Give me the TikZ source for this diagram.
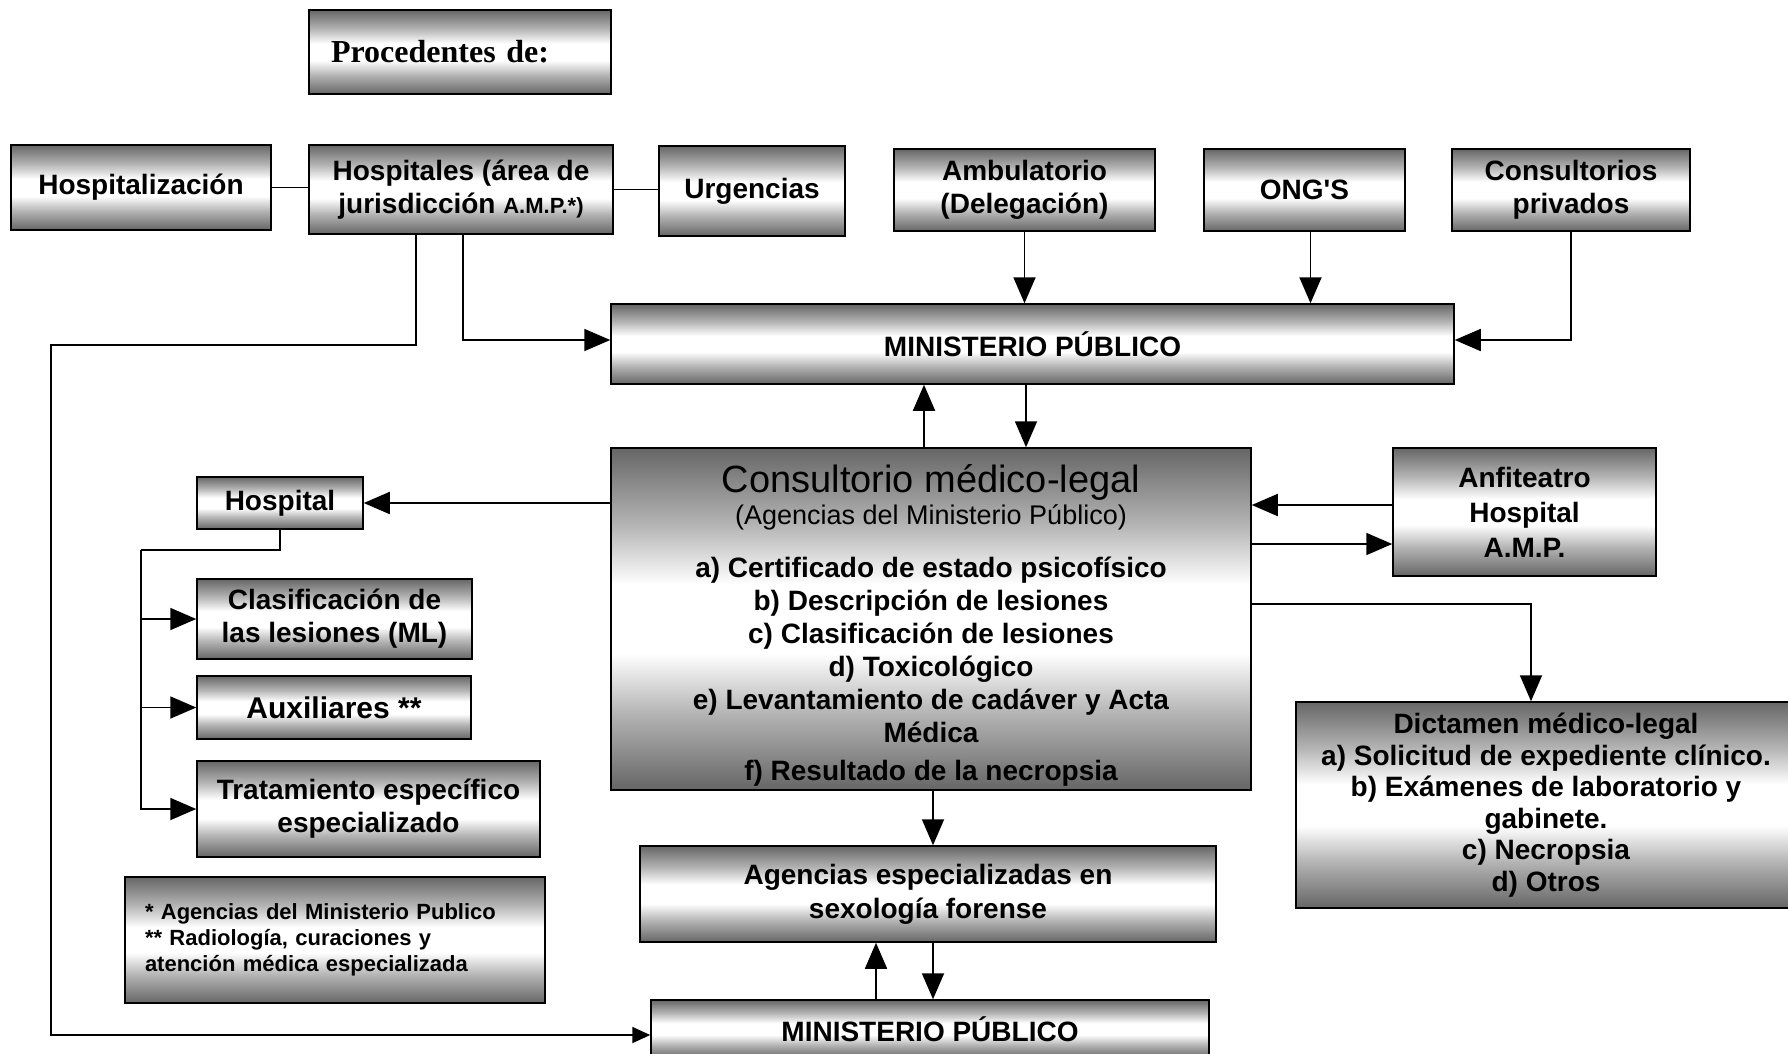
\documentclass[tikz,border=0pt]{standalone}
\usepackage{fontspec}
\setmainfont{Liberation Sans}
\newfontfamily\procfont{Liberation Serif}
\newfontfamily\straightfont{Liberation Sans}[Ligatures=TeXOff]
\usetikzlibrary{arrows.meta}

% grey band shading: dark at top and bottom, white across the middle
\definecolor{bandgray}{gray}{0.40}
\colorlet{bandmid}{bandgray!50!white}
\pgfdeclareverticalshading{boxband}{100bp}{%
  color(0bp)=(bandgray); color(25bp)=(bandgray); color(36bp)=(bandmid);
  color(45bp)=(white); color(55bp)=(white); color(64bp)=(bandmid);
  color(75bp)=(bandgray); color(100bp)=(bandgray)}

\tikzset{
  box/.style={draw=black, line width=1.5pt, shade, shading=boxband,
    inner sep=0pt, align=center,
    font=\bfseries\fontsize{28}{33}\selectfont},
  link/.style={line width=1.8pt},
  arr/.style={link, -{Triangle[length=26pt,width=22pt]}},
  smallarr/.style={link, -{Triangle[length=18pt,width=16pt]}},
}

\begin{document}
\begin{tikzpicture}[x=1pt,y=-1pt]
\useasboundingbox (0,0) rectangle (1788,1053);
\clip (0,0) rectangle (1788,1053);
\fill[white] (0,0) rectangle (1788,1053);

% top row
\node[box, minimum width=302, minimum height=84, text width=258, align=left,
      font=\procfont\bfseries\fontsize{32}{36}\selectfont] (proc) at (460,52) {Procedentes de:};
\node[box, minimum width=260, minimum height=85] (hospz) at (141,187.5) {Hospitalización};
\node[box, minimum width=304, minimum height=89] (hosps) at (461,189.5)
  {Hospitales (área de\\jurisdicción {\fontsize{22}{26}\selectfont A.M.P.*)}};
\node[box, minimum width=186, minimum height=90] (urg) at (752,191) {Urgencias};
\node[box, minimum width=261, minimum height=82] (amb) at (1024.5,190) {Ambulatorio\\(Delegación)};
\node[box, minimum width=201, minimum height=82] (ong) at (1304.5,190) {ONG{\straightfont\bfseries'}S};
\node[box, minimum width=238, minimum height=82] (cpriv) at (1571,190) {Consultorios\\privados};

% ministerio publico
\node[box, minimum width=843, minimum height=80] (mp1) at (1032.5,344) {MINISTERIO PÚBLICO};

% consultorio medico-legal: box and its text block
\node[box, minimum width=640, minimum height=342] (cml) at (931,619) {};
\node[align=center, inner sep=0pt, font=\bfseries\fontsize{28}{33}\selectfont]
  (cmltext) at ([yshift=-6pt]cml.center)
  {{\mdseries\fontsize{38}{40}\selectfont Consultorio médico-legal}\\[-1pt]
   {\mdseries\fontsize{27}{31}\selectfont (Agencias del Ministerio Público)}\\[20pt]
   a) Certificado de estado psicofísico\\
   b) Descripción de lesiones\\
   c) Clasificación de lesiones\\
   d) Toxicológico\\
   e) Levantamiento de cadáver y Acta\\
   Médica\\[5pt]
   f) Resultado de la necropsia};

% hospital branch
\node[box, minimum width=166, minimum height=52] (hosp) at (280,503) {Hospital};
\node[box, minimum width=275, minimum height=80] (clas) at (334.5,619) {Clasificación de\\las lesiones (ML)};
\node[box, minimum width=274, minimum height=63, font=\bfseries\fontsize{30}{34}\selectfont] (aux) at (334,707.5) {Auxiliares **};
\node[box, minimum width=343, minimum height=96] (trat) at (368.5,809) {Tratamiento específico\\especializado};
\node[box, minimum width=420, minimum height=126, text width=380, align=left,
      font=\bfseries\fontsize{22}{26}\selectfont] (note) at (335,940)
  {* Agencias del Ministerio Publico\\{}** Radiología, curaciones y\\atención médica especializada};

% right side
\node[box, minimum width=263, minimum height=128, font=\bfseries\fontsize{28}{35}\selectfont] (anf) at (1524.5,512) {Anfiteatro\\Hospital\\A.M.P.};
\node[box, minimum width=500, minimum height=206, font=\bfseries\fontsize{28}{31.5}\selectfont] (dict) at (1546,805)
  {Dictamen médico-legal\\a) Solicitud de expediente clínico.\\b) Exámenes de laboratorio y\\gabinete.\\c) Necropsia\\d) Otros};

% bottom
\node[box, minimum width=576, minimum height=96, font=\bfseries\fontsize{28}{34}\selectfont] (agen) at (928,894)
  {Agencias especializadas en\\sexología forense};
\node[box, minimum width=558, minimum height=58] (mp2) at (930,1029) {MINISTERIO PÚBLICO};

% connectors, top row
\draw[link] (hospz.east) -- (hospz.east -| hosps.west);
\draw[link] (hosps.east) -- (hosps.east -| urg.west);
\draw[arr] (amb.south) -- (amb.south |- mp1.north);
\draw[arr] ([xshift=6pt]ong.south) -- ([xshift=6pt]ong.south |- mp1.north);
\draw[arr] (cpriv.south) |- ([yshift=4pt]mp1.east);
\draw[arr] ([xshift=2pt]hosps.south) |- ([yshift=4pt]mp1.west);
\coordinate (lbend) at (51,345);
\draw[smallarr] ([xshift=-45pt]hosps.south) |- (lbend) |- ([yshift=-6pt]mp2.west);

% ministerio publico <-> consultorio
\draw[arr] ([xshift=-7pt]cml.north) -- ([xshift=-7pt]cml.north |- mp1.south);
\draw[arr] ([xshift=95pt]cml.north |- mp1.south) -- ([xshift=95pt]cml.north);

% consultorio -> hospital and its branches
\draw[arr] (cml.west |- hosp.east) -- (hosp.east);
\coordinate (bus) at (141,550);
\draw[link] (hosp.south) |- (bus);
\draw[arr] (bus) |- (clas.west);
\draw[arr] (bus) |- (aux.west);
\draw[arr] (bus) |- (trat.west);

% consultorio <-> anfiteatro, dictamen
\draw[arr] ([yshift=7pt]anf.west) -- ([yshift=7pt]anf.west -| cml.east);
\draw[arr] ([yshift=-32pt]anf.west -| cml.east) -- ([yshift=-32pt]anf.west);
\draw[arr] ([yshift=15pt]cml.east) -| ([xshift=-15pt]dict.north);

% consultorio -> agencias <-> ministerio publico
\draw[arr] ([xshift=2pt]cml.south) -- ([xshift=2pt]cml.south |- agen.north);
\draw[arr] ([xshift=-52pt]agen.south |- mp2.north) -- ([xshift=-52pt]agen.south);
\draw[arr] ([xshift=5pt]agen.south) -- ([xshift=5pt]agen.south |- mp2.north);
\end{tikzpicture}
\end{document}
